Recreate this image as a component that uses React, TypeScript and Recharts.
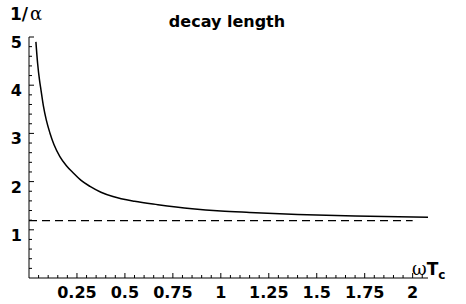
import { LineChart, Line, XAxis, YAxis } from "recharts";

// curve 1/alpha vs omega*Tc
const curveX = [0.036, 0.045, 0.055, 0.0625, 0.075, 0.09, 0.109, 0.13, 0.161, 0.195, 0.231, 0.27, 0.318, 0.375, 0.4375, 0.55, 0.672, 0.85, 1.0, 1.15, 1.4, 1.7, 2.08];
const curveY = [4.9, 4.45, 4.1, 3.9, 3.57, 3.28, 3.01, 2.77, 2.52, 2.33, 2.18, 2.03, 1.9, 1.78, 1.69, 1.59, 1.52, 1.437, 1.39, 1.36, 1.316, 1.284, 1.26];

// dashed asymptote
const limitX = [0, 2.0];
const limitY = [1.19, 1.19];

const xMajor = [0.25, 0.5, 0.75, 1, 1.25, 1.5, 1.75, 2];
const xLabels = ["0.25", "0.5", "0.75", "1", "1.25", "1.5", "1.75", "2"];
const yMajor = [1, 2, 3, 4, 5];
const yLabels = ["1", "2", "3", "4", "5"];

const xTicks: number[] = [];
for (let i = 1; i <= 41; i++) xTicks.push(Math.round(i * 5) / 100);
const yTicks: number[] = [];
for (let i = 1; i <= 25; i++) yTicks.push(Math.round(i * 2) / 10);

const curve = curveX.map((x, i) => ({ x, y: curveY[i] }));
const limit = limitX.map((x, i) => ({ x, y: limitY[i] }));

const FONT = "'DejaVu Sans', sans-serif";
const bold = { fontFamily: FONT, fontWeight: 700 };
const greek = { fontFamily: "'DejaVu Serif', serif", fontWeight: 400 };

const XTick = (props: any) => {
  const { x, y, payload } = props;
  const idx = xMajor.findIndex((m) => Math.abs(m - payload.value) < 1e-6);
  const major = idx >= 0;
  return (
    <g>
      <line x1={x} x2={x} y1={y} y2={y - (major ? 5 : 3)} stroke="#000" strokeWidth={1} />
      {major && (
        <text x={x} y={y + 20} textAnchor="middle" style={bold} fontSize={16} fill="#000">
          {xLabels[idx]}
        </text>
      )}
    </g>
  );
};

const YTick = (props: any) => {
  const { x, y, payload } = props;
  const idx = yMajor.findIndex((m) => Math.abs(m - payload.value) < 1e-6);
  const major = idx >= 0;
  return (
    <g>
      <line x1={x} x2={x + (major ? 5 : 3)} y1={y} y2={y} stroke="#000" strokeWidth={1} />
      {major && (
        <text x={x - 7} y={y + 11} textAnchor="end" style={bold} fontSize={16} fill="#000">
          {yLabels[idx]}
        </text>
      )}
    </g>
  );
};

export default function App() {
  return (
    <div style={{ position: "absolute", left: 0, top: 0, width: 466, height: 304, background: "#fff" }}>
      <LineChart width={466} height={304} margin={{ top: 37, right: 38, bottom: 0, left: 0 }}>
        <XAxis
          type="number"
          dataKey="x"
          domain={[0, 2.08]}
          ticks={xTicks}
          interval={0}
          tickSize={0}
          tickMargin={0}
          height={26}
          tick={<XTick />}
          axisLine={{ stroke: "#000", strokeWidth: 1 }}
          allowDataOverflow
        />
        <YAxis
          type="number"
          dataKey="y"
          domain={[0, 5]}
          ticks={yTicks}
          interval={0}
          tickSize={0}
          tickMargin={0}
          width={29}
          tick={<YTick />}
          axisLine={{ stroke: "#000", strokeWidth: 1 }}
          allowDataOverflow
        />
        <Line data={limit} dataKey="y" type="linear" stroke="#000" strokeWidth={1.3} strokeDasharray="8 5" dot={false} isAnimationActive={false} />
        <Line data={curve} dataKey="y" type="monotone" stroke="#000" strokeWidth={1.5} dot={false} isAnimationActive={false} />
        <text x={10} y={20} style={bold} fontSize={17} fill="#000">
          1/<tspan dx={2} style={greek} fontSize={18}>α</tspan>
        </text>
        <text x={227} y={27} textAnchor="middle" style={bold} fontSize={16} fill="#000">
          decay length
        </text>
        <text x={412} y={275} style={bold} fontSize={17} fill="#000">
          <tspan style={greek} fontSize={18}>ω</tspan>T
          <tspan dy={4} fontSize={12}>c</tspan>
        </text>
      </LineChart>
    </div>
  );
}
